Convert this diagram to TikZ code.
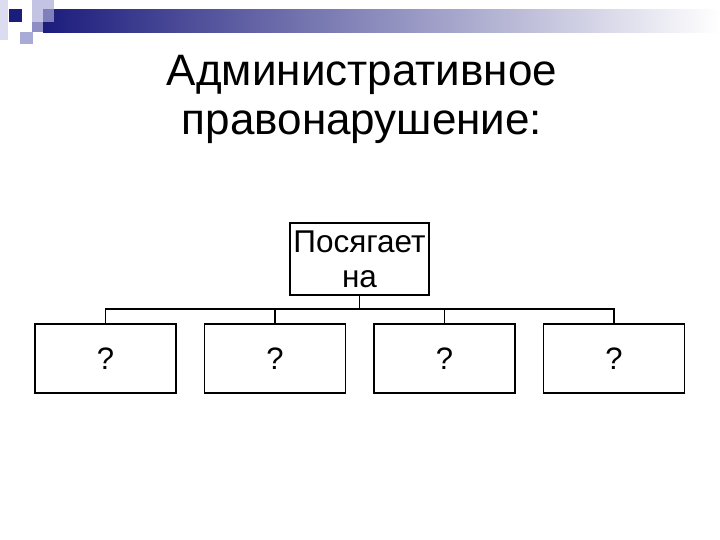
\documentclass[tikz,border=0pt]{standalone}
\usepackage{fontspec}
\setmainfont{Liberation Sans}
\definecolor{navy}{RGB}{28,28,125}
\definecolor{lavender}{RGB}{170,170,215}
\definecolor{palelav}{RGB}{220,220,240}
\tikzset{
  titletext/.style={align=center, inner sep=0pt, font=\fontsize{44}{49}\selectfont},
  targetbox/.style={draw, line width=1.8pt, minimum width=139pt, minimum height=72pt,
    inner sep=0pt, align=center, font=\fontsize{31.5}{35}\selectfont},
  objbox/.style={draw, line width=1.8pt, minimum width=141pt, minimum height=69pt,
    inner sep=0pt, font=\fontsize{31}{35}\selectfont},
  branch/.style={line width=1.5pt}
}
\begin{document}
\begin{tikzpicture}[x=1pt,y=-1pt]
\useasboundingbox (0,0) rectangle (720,540);
% slide decoration
\fill [palelav] (0,0) rectangle (8,40);
\shade [left color=navy, right color=white] (43,10) rectangle (720,33);
\fill [lavender, opacity=0.7] (32,0) rectangle (54,22);
\fill [lavender!80!navy] (32,22) rectangle (43,32);
\fill [lavender] (20,32) rectangle (33,44);
\fill [navy] (9,9) rectangle (22,22);
% title
\node [titletext] (title) at (362,99) {Административное\\правонарушение:};
% tree
\node [targetbox] (target) at (359.5,259) {Посягает\\на};
\coordinate (hub) at (359.5,309);
\draw [branch] (target) -- (hub);
\foreach \i/\x in {1/105.5, 2/275, 3/444.5, 4/614}{
  \node [objbox] (obj\i) at (\x,358.5) {?};
  \draw [branch] (hub) -| (obj\i.north);
}
\end{tikzpicture}
\end{document}
